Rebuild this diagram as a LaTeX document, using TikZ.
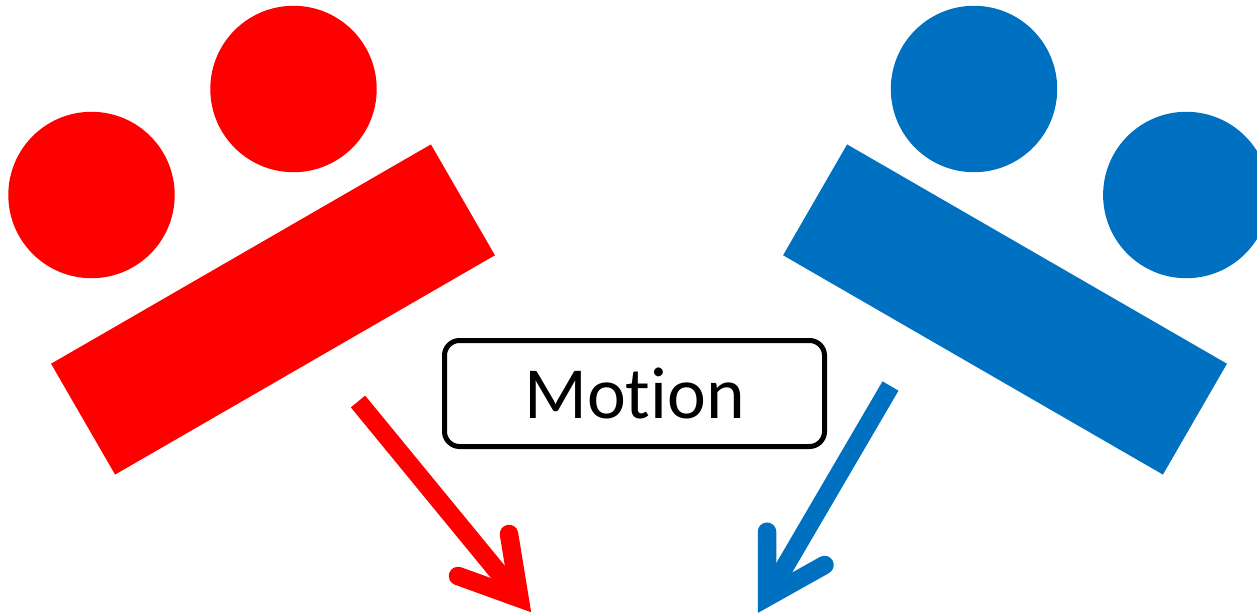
\documentclass[tikz,border=0pt]{standalone}
\usepackage{fontspec}
\setmainfont[Ligatures=NoCommon]{Carlito}
\definecolor{mblue}{HTML}{0070C0}
\definecolor{mred}{HTML}{FF0000}
\tikzset{
  disc/.style={circle,inner sep=0pt,minimum size=166.4pt,fill=#1},
  slab/.style={rectangle,inner sep=0pt,minimum width=438.6pt,minimum height=128pt,fill=#1},
  shaft/.style={line width=18.5pt,draw=#1,line cap=butt},
  barbs/.style={line width=18.5pt,draw=#1,line cap=round,line join=miter,miter limit=10},
  label box/.style={rectangle,rounded corners=15pt,draw=black,line width=5pt,fill=white,inner sep=0pt,
    minimum width=380pt,minimum height=106pt,font=\fontsize{73.5}{73.5}\selectfont}
}
\begin{document}
\begin{tikzpicture}[x=1pt,y=-1pt]
\useasboundingbox (0,0) rectangle (1257,615);
\begin{scope}
\clip (0,0) rectangle (1257,615);
\node[disc=mred] (rc1) at (91.5,195) {};
\node[disc=mred] (rc2) at (293.5,89) {};
\node[slab=mred,rotate=30] (rs) at (273,309.5) {};
\node[disc=mblue] (bc1) at (974,89) {};
\node[disc=mblue] (bc2) at (1186.3,195) {};
\node[slab=mblue,rotate=-30] (bs) at (1005,309.5) {};
\node[label box] (motion) at (634.5,393.5) {Motion};
% red arrow
\coordinate (ra0) at (358,401.5);
\coordinate (ra1) at (519.5,598.2);
\coordinate (rb1) at (509,534);
\coordinate (rb2) at (458,576);
\draw[shaft=mred] (ra0) -- (ra1);
\draw[barbs=mred] (rb1) -- (ra1) -- (rb2);
% blue arrow
\coordinate (ba0) at (890.5,386);
\coordinate (ba1) at (767,597.2);
\coordinate (bb1) at (767,531.7);
\coordinate (bb2) at (824.5,565);
\draw[shaft=mblue] (ba0) -- (ba1);
\draw[barbs=mblue] (bb1) -- (ba1) -- (bb2);
\end{scope}
\end{tikzpicture}
\end{document}
